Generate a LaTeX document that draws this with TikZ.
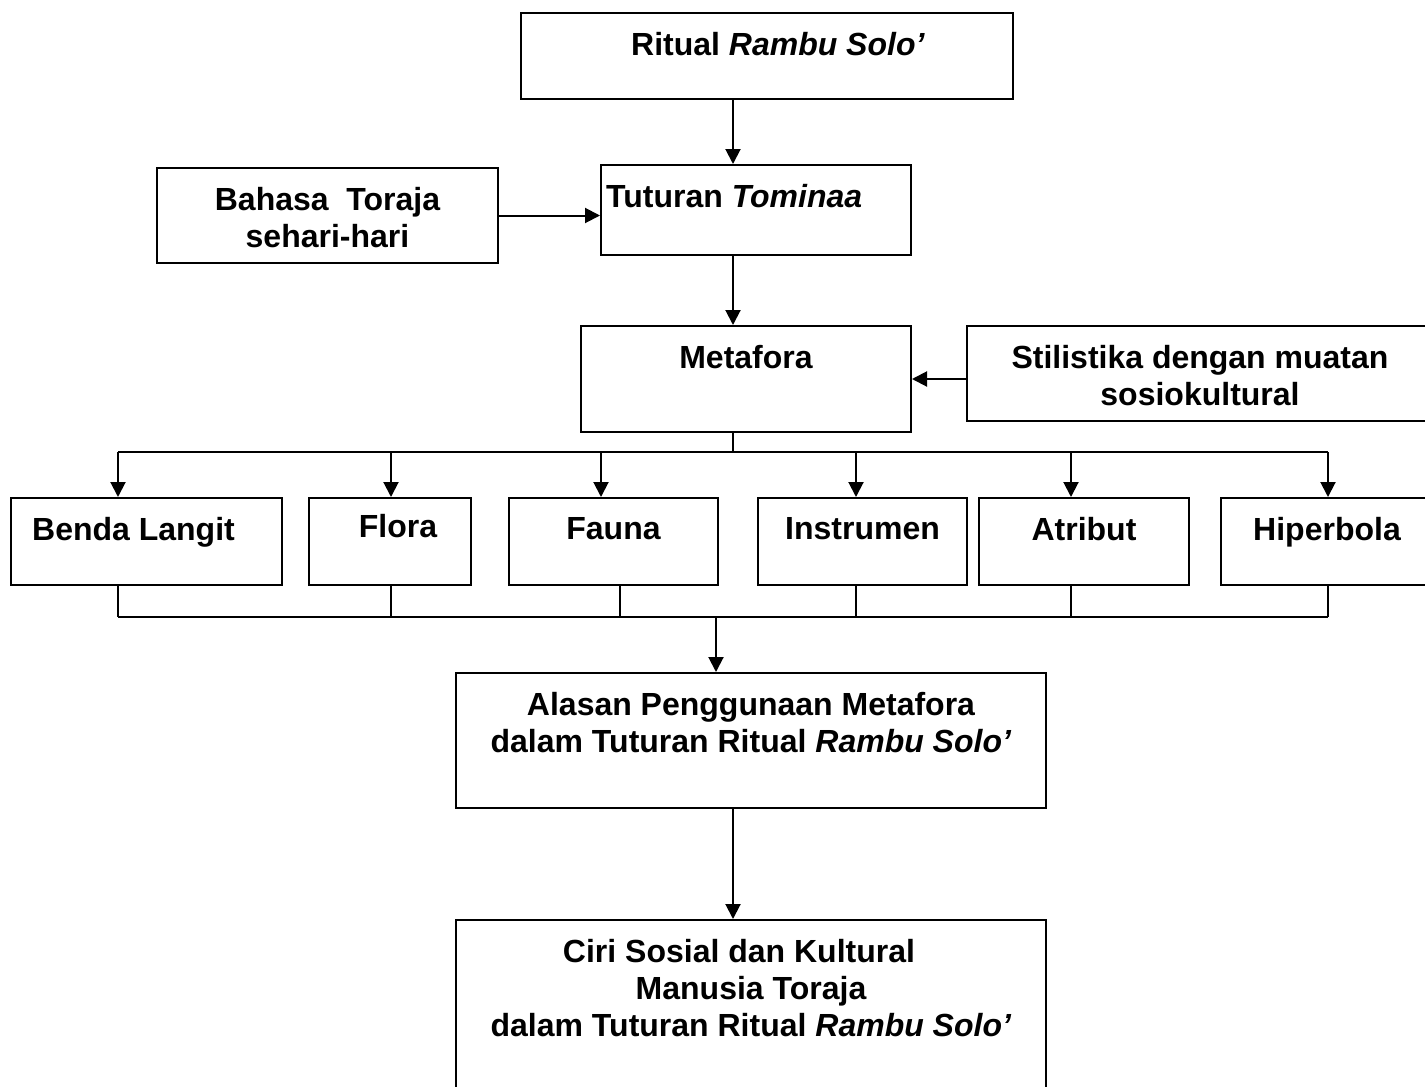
\documentclass[tikz,border=0pt]{standalone}
\usepackage{fontspec}
\setmainfont{Liberation Sans}
\usepackage{tikz}
\usetikzlibrary{positioning}
\usetikzlibrary{arrows.meta}

\tikzset{
    box/.style={draw, line width=2pt, inner sep=0pt},
    lbl/.style={inner sep=0pt, align=center, font=\bfseries\fontsize{32}{37}\selectfont},
    wire/.style={line width=2pt},
    arr/.style={line width=2pt, -{Triangle[length=15pt,width=15pt]}},
}

\begin{document}
\begin{tikzpicture}[x=1pt, y=-1pt]
    \useasboundingbox (0,0) rectangle (1425,1087);
    \clip (0,0) rectangle (1425,1087);

    % top part
    \node[box, minimum width=492pt, minimum height=86pt] (ritual) at (767,56) {};
    \node[lbl, below=20pt of ritual.north, xshift=11pt] (ritual-t) {Ritual \textit{Rambu Solo'}};

    \node[box, minimum width=341pt, minimum height=95pt] (bahasa) at (327.5,215.5) {};
    \node[lbl, below=20pt of bahasa.north] (bahasa-t) {Bahasa\ \ Toraja\\sehari-hari};

    \node[box, minimum width=310pt, minimum height=90pt] (tuturan) at (756,210) {};
    \node[lbl, below right=20pt and 6pt of tuturan.north west] (tuturan-t) {Tuturan \textit{Tominaa}};

    \node[box, minimum width=330pt, minimum height=106pt] (metafora) at (746,379) {};
    \node[lbl, below=20pt of metafora.north] (metafora-t) {Metafora};

    \node[box, minimum width=466pt, minimum height=95pt] (stilistika) at (1200,373.5) {};
    \node[lbl, below=20pt of stilistika.north] (stilistika-t) {Stilistika dengan muatan\\sosiokultural};

    % jenis metafora
    \node[box, minimum width=271pt, minimum height=87pt] (benda) at (146.5,541.5) {};
    \node[box, minimum width=162pt, minimum height=87pt] (flora) at (390,541.5) {};
    \node[box, minimum width=209pt, minimum height=87pt] (fauna) at (613.5,541.5) {};
    \node[box, minimum width=209pt, minimum height=87pt] (instrumen) at (862.5,541.5) {};
    \node[box, minimum width=210pt, minimum height=87pt] (atribut) at (1084,541.5) {};
    \node[box, minimum width=212pt, minimum height=87pt] (hiperbola) at (1327,541.5) {};

    \node[lbl, below=20pt of benda.north, xshift=-13pt] (benda-t) {Benda Langit};
    \node[lbl, below=17pt of flora.north, xshift=8pt] (flora-t) {Flora};
    \node[lbl, below=20pt of fauna.north] (fauna-t) {Fauna};
    \node[lbl, below=20pt of instrumen.north] (instrumen-t) {Instrumen};
    \node[lbl, below=20pt of atribut.north] (atribut-t) {Atribut};
    \node[lbl, below=20pt of hiperbola.north] (hiperbola-t) {Hiperbola};

    % bottom part
    \node[box, minimum width=590pt, minimum height=135pt] (alasan) at (751,740.5) {};
    \node[lbl, below=20pt of alasan.north] (alasan-t) {Alasan Penggunaan Metafora\\dalam Tuturan Ritual \textit{Rambu Solo'}};

    \node[box, minimum width=590pt, minimum height=190pt] (ciri) at (751,1015) {};
    \node[lbl, below=20pt of ciri.north] (ciri-t) {Ciri Sosial dan Kultural\hspace*{24pt}\\Manusia Toraja\\dalam Tuturan Ritual \textit{Rambu Solo'}};

    % connectors
    \coordinate (axis) at (733,0);
    \coordinate (split) at (733,452);
    \coordinate (join) at (716,617);

    \draw[arr] (ritual.south -| axis) -- (tuturan.north -| axis);
    \draw[arr] (bahasa.east) -- (bahasa.east -| tuturan.west);
    \draw[arr] (tuturan.south -| axis) -- (metafora.north -| axis);
    \draw[arr] (stilistika.west |- metafora.east) -- (metafora.east);

    \foreach \n/\a/\b in {benda/-28.5/-28.5, flora/1/1, fauna/-12.5/6.5, instrumen/-6.5/-6.5, atribut/-13/-13, hiperbola/1/1} {
        \coordinate (\n-in) at ([xshift=\a pt]\n.north);
        \coordinate (\n-out) at ([xshift=\b pt]\n.south);
        \draw[arr] (\n-in |- split) -- (\n-in);
        \draw[wire] (\n-out) -- (\n-out |- join);
    }

    \draw[wire] (metafora.south -| split) -- (split);
    \draw[wire] (benda-in |- split) -- (hiperbola-in |- split);
    \draw[wire] (benda-out |- join) -- (hiperbola-out |- join);
    \draw[arr] (join) -- (join |- alasan.north);
    \draw[arr] (alasan.south -| axis) -- (ciri.north -| axis);

\end{tikzpicture}
\end{document}
